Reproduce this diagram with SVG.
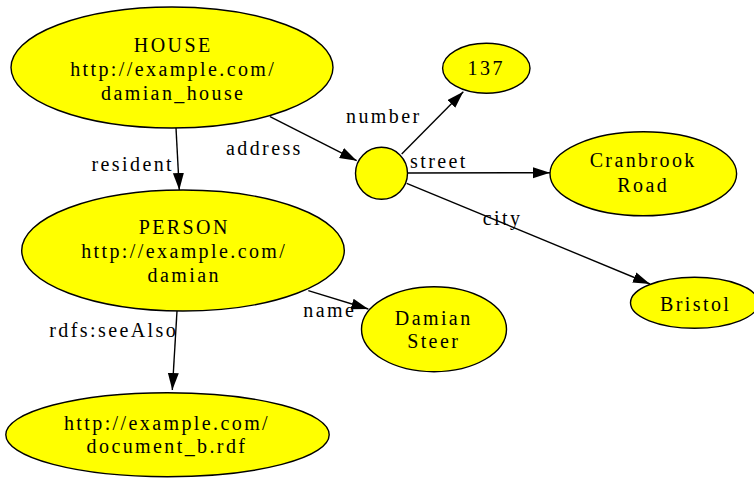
<svg xmlns="http://www.w3.org/2000/svg" width="754" height="478" viewBox="0 0 754 478">
  <style>
    .node ellipse, .node circle { fill: #ffff00; stroke: #000000; stroke-width: 1.4; }
    text { font-family: "Liberation Serif", "Times New Roman", serif; font-size: 20px; letter-spacing: 2.4px; fill: #000000; }
    .node text { text-anchor: middle; }
    .edge line { stroke: #000000; stroke-width: 1.4; marker-end: url(#arrow); }
  </style>
  <defs>
    <marker id="arrow" markerUnits="userSpaceOnUse" markerWidth="18" markerHeight="12" refX="17" refY="5.5" orient="auto">
      <path d="M0,0 L17,5.5 L0,11 Z" fill="#000000"/>
    </marker>
  </defs>
  <rect width="754" height="478" fill="#ffffff"/>

  <!-- edges -->
  <g id="edges" class="edge">
    <line x1="176" y1="128" x2="179.3" y2="190"/>
    <text x="91.5" y="170.7">resident</text>
    <line x1="270" y1="116.7" x2="356.7" y2="160.7"/>
    <text x="226" y="155">address</text>
    <line x1="401.7" y1="154" x2="463.3" y2="91.7"/>
    <text x="346" y="122.7">number</text>
    <line x1="407.3" y1="173" x2="550" y2="172.7"/>
    <text x="410" y="168.3">street</text>
    <line x1="406.7" y1="183.3" x2="650" y2="284"/>
    <text x="482.7" y="225">city</text>
    <line x1="308.3" y1="290.7" x2="368.3" y2="309"/>
    <text x="303.3" y="316.7">name</text>
    <line x1="177" y1="311" x2="172.3" y2="390"/>
    <text x="49.3" y="337.3">rdfs:seeAlso</text>
  </g>

  <!-- nodes -->
  <g id="house" class="node">
    <ellipse cx="172" cy="67.5" rx="161" ry="60.5"/>
    <text x="173.2" y="52">HOUSE</text>
    <text x="173.2" y="76">http://example.com/</text>
    <text x="173.2" y="100">damian_house</text>
  </g>
  <g id="person" class="node">
    <ellipse cx="183" cy="250.5" rx="161.3" ry="60.5"/>
    <text x="184.2" y="234">PERSON</text>
    <text x="184.2" y="258">http://example.com/</text>
    <text x="184.2" y="281.7">damian</text>
  </g>
  <g id="address" class="node">
    <circle cx="381.5" cy="173.3" r="26"/>
  </g>
  <g id="number" class="node">
    <ellipse cx="486.3" cy="68.3" rx="43.7" ry="25"/>
    <text x="486.2" y="75">137</text>
  </g>
  <g id="street" class="node">
    <ellipse cx="643.3" cy="173.8" rx="93.3" ry="42"/>
    <text x="643.2" y="167.3">Cranbrook</text>
    <text x="643.2" y="191.7">Road</text>
  </g>
  <g id="city" class="node">
    <ellipse cx="694.5" cy="302.8" rx="64" ry="25.5"/>
    <text x="695.7" y="311">Bristol</text>
  </g>
  <g id="name" class="node">
    <ellipse cx="434" cy="329.2" rx="72.5" ry="42.5"/>
    <text x="433.7" y="325">Damian</text>
    <text x="433.7" y="348.3">Steer</text>
  </g>
  <g id="document" class="node">
    <ellipse cx="167.5" cy="434.7" rx="161.7" ry="42"/>
    <text x="167" y="430">http://example.com/</text>
    <text x="167" y="453.3">document_b.rdf</text>
  </g>
</svg>
